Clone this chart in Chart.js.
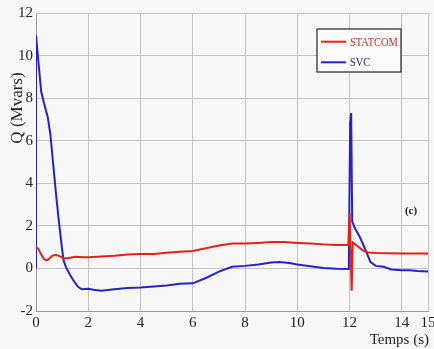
<!DOCTYPE html>
<html><head><meta charset="utf-8">
<script src="https://cdn.jsdelivr.net/npm/chart.js@4"></script>
<style>html,body{margin:0;padding:0;background:#f7f7f7;overflow:hidden;} #wrap{width:434px;height:349px;}</style>
</head><body><div id="wrap"><canvas id="c" width="434" height="349"></canvas></div>
<script>
// ---- data ----
const statcomT = [0,0.1,0.2,0.3,0.4,0.5,0.6,0.75,0.9,1.05,1.2,1.5,1.8,2.0,2.5,3.0,3.5,4.0,4.5,5.0,5.5,6.0,6.5,7.0,7.5,8.0,8.5,9.0,9.5,10.0,10.5,11.0,11.5,11.95,12.0,12.03,12.08,12.12,12.3,12.5,12.7,13.0,14.0,15.0];
const statcomQ = [1.02,0.9,0.65,0.45,0.38,0.45,0.58,0.64,0.58,0.48,0.48,0.55,0.52,0.52,0.56,0.6,0.66,0.68,0.68,0.74,0.78,0.82,0.95,1.08,1.17,1.17,1.2,1.24,1.24,1.2,1.17,1.13,1.1,1.1,2.6,1.1,-1.05,1.22,1.05,0.85,0.75,0.72,0.7,0.7];
const svcT = [0,0,0.1,0.2,0.3,0.45,0.55,0.65,0.75,0.85,0.95,1.05,1.15,1.3,1.45,1.6,1.75,2.0,2.2,2.5,3.0,3.5,4.0,4.5,5.0,5.5,6.0,6.5,7.0,7.5,8.0,8.5,9.0,9.3,9.7,10.0,10.5,11.0,11.5,11.97,12.02,12.06,12.1,12.2,12.4,12.6,12.8,13.0,13.3,13.6,14.0,14.3,14.6,15.0];
const svcQ = [0,10.95,9.6,8.3,7.8,7.1,6.3,5.0,3.7,2.5,1.4,0.4,0.05,-0.3,-0.6,-0.85,-0.98,-0.95,-1.0,-1.05,-0.98,-0.92,-0.9,-0.85,-0.8,-0.72,-0.7,-0.45,-0.15,0.08,0.12,0.18,0.28,0.3,0.25,0.18,0.1,0.02,-0.02,-0.03,6.8,7.3,2.2,1.9,1.45,0.9,0.3,0.12,0.08,-0.05,-0.08,-0.08,-0.12,-0.15];
const seriesNames = ['STATCOM','SVC'];
const xTicks = [0,2,4,6,8,10,12,14,15];
const yTicks = [-2,0,2,4,6,8,10,12];
const xTitle = 'Temps (s)';
const yTitle = 'Q (Mvars)';
const panelLabel = '(c)';

const RED = '#e0221c', BLUE = '#2323c8';
const SERIF = '"Liberation Serif","Times New Roman",serif';

const overlay = {
  id: 'overlay',
  afterDraw(chart) {
    const ctx = chart.ctx;
    const a = chart.chartArea;
    ctx.save();
    // y title
    ctx.fillStyle = '#222';
    ctx.font = '17px ' + SERIF;
    ctx.textAlign = 'center'; ctx.textBaseline = 'middle';
    ctx.save(); ctx.translate(18, 108); ctx.rotate(-Math.PI/2);
    ctx.fillText(yTitle, 0, 0); ctx.restore();
    // x title
    ctx.textAlign = 'right';
    ctx.font = '15px ' + SERIF;
    ctx.fillText(xTitle, a.right + 1, 340);
    // panel label
    ctx.textAlign = 'center';
    ctx.font = 'bold 11px ' + SERIF;
    ctx.fillText(panelLabel, 411, 211);
    // legend
    const bx = 317, by = 29, bw = 84, bh = 43;
    ctx.fillStyle = '#fbfbfb';
    ctx.fillRect(bx, by, bw, bh);
    ctx.strokeStyle = '#333'; ctx.lineWidth = 1.3;
    ctx.strokeRect(bx, by, bw, bh);
    const rows = [41.7, 62.3];
    chart.data.datasets.forEach((ds, i) => {
      const y = rows[i];
      ctx.strokeStyle = ds.borderColor; ctx.lineWidth = 2;
      ctx.beginPath(); ctx.moveTo(321, y); ctx.lineTo(346, y); ctx.stroke();
      ctx.fillStyle = i === 0 ? '#c9302a' : '#23237a';
      ctx.textAlign = 'left'; ctx.textBaseline = 'middle';
      ctx.font = '13px ' + SERIF;
      ctx.save(); ctx.translate(350, y); ctx.scale(0.8, 1);
      ctx.fillText(ds.label, 0, 0.5); ctx.restore();
    });
    ctx.restore();
  }
};

new Chart(document.getElementById('c'), {
  type: 'line',
  data: {
    datasets: [
      { label: seriesNames[0], data: statcomT.map((t, i) => ({x: t, y: statcomQ[i]})), borderColor: RED, borderWidth: 2, pointRadius: 0, tension: 0 },
      { label: seriesNames[1], data: svcT.map((t, i) => ({x: t, y: svcQ[i]})), borderColor: BLUE, borderWidth: 2, pointRadius: 0, tension: 0 }
    ]
  },
  options: {
    responsive: false, animation: false, devicePixelRatio: 1,
    layout: { padding: { top: 13, right: 6, left: 0, bottom: 0 } },
    plugins: { legend: { display: false }, tooltip: { enabled: false } },
    scales: {
      x: {
        type: 'linear', min: 0, max: 15,
        afterBuildTicks: s => { s.ticks = xTicks.map(v => ({ value: v })); },
        afterFit: s => { s.height = 38; s.paddingLeft = 0; s.paddingRight = 0; },
        ticks: { autoSkip: false, maxRotation: 0, color: '#222', padding: 3, font: { family: SERIF, size: 15 } },
        grid: { color: '#c2c2c2', drawTicks: false, lineWidth: 1 },
        border: { color: '#9a9a9a' }
      },
      y: {
        min: -2, max: 12,
        afterBuildTicks: s => { s.ticks = yTicks.map(v => ({ value: v })); },
        afterFit: s => { s.width = 36; },
        ticks: { color: '#222', padding: 3, font: { family: SERIF, size: 15 } },
        grid: { color: '#c2c2c2', drawTicks: false, lineWidth: 1 },
        border: { color: '#9a9a9a' }
      }
    }
  },
  plugins: [overlay]
});
</script></body></html>
